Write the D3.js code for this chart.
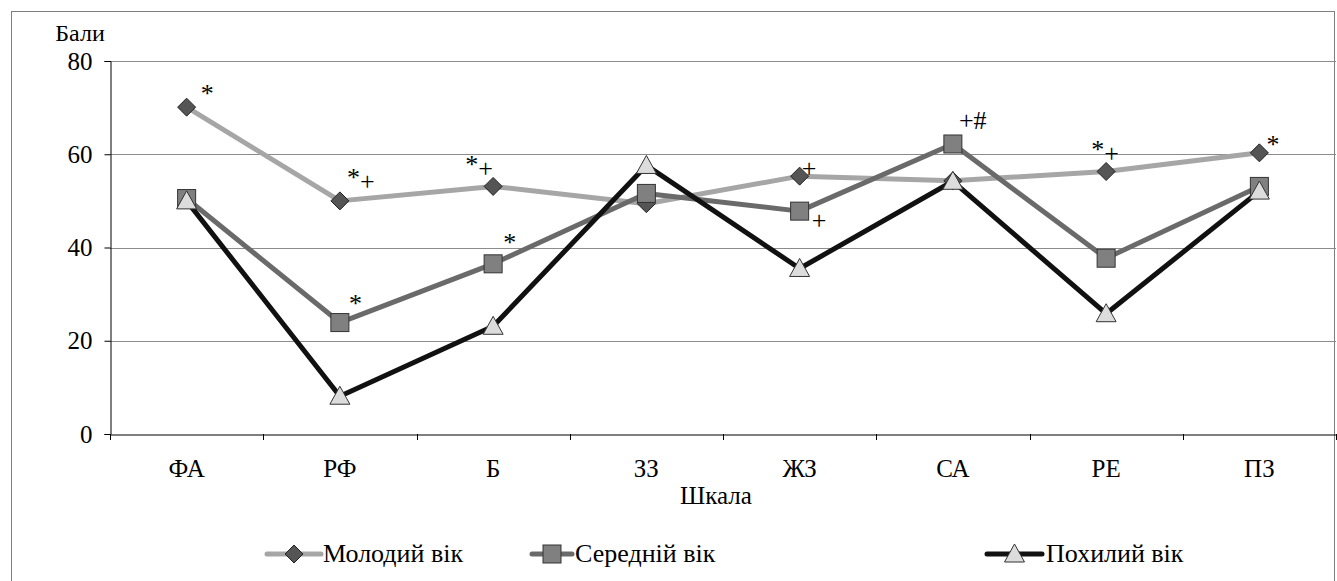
<!DOCTYPE html>
<html><head><meta charset="utf-8">
<script src="https://cdn.jsdelivr.net/npm/d3@7"></script>
<style>body{margin:0;background:#fff}</style>
</head><body>
<svg id="c" width="1337" height="581"></svg>
<script>
const categories = ["ФА","РФ","Б","ЗЗ","ЖЗ","СА","РЕ","ПЗ"];
const seriesNames = ["Молодий вік","Середній вік","Похилий вік"];
const young  = [70.1, 50.0, 53.1, 49.4, 55.3, 54.3, 56.3, 60.3];
const middle = [50.5, 23.9, 36.5, 51.6, 47.8, 62.2, 37.7, 53.1];
const old    = [50.0,  8.1, 23.1, 57.6, 35.5, 54.2, 25.8, 52.1];
const yTicks = [0, 20, 40, 60, 80];
// significance marks: [series index, category index, text]
const marks = [[0,0,"*"],[0,1,"*+"],[0,2,"*+"],[1,1,"*"],[1,2,"*"],[0,4,"+"],[1,4,"+"],[1,5,"+#"],[0,6,"*+"],[0,7,"*"]];

const FF = '"Liberation Serif", "Times New Roman", Tinos, FreeSerif';
const svg = d3.select("#c");
const L = 110, R = 1336, T = 61, B = 434;
const x = d3.scaleBand().domain(categories).range([L, R]);
const y = d3.scaleLinear().domain([0, 80]).range([B, T]);
const cx = c => x(c) + x.bandwidth()/2;
function txt(sel, size){
  return sel.attr("font-family",FF).attr("font-size",size)
    .style("font-family",FF).style("font-size",size+"px").style("fill","#000");
}

svg.append("rect").attr("x",11.5).attr("y",11.5).attr("width",1323).attr("height",600)
  .attr("fill","none").attr("stroke","#7f7f7f").attr("stroke-width",1);

// gridlines
svg.append("g").selectAll("line").data(yTicks.filter(d=>d>0)).join("line")
  .attr("x1",L).attr("x2",R).attr("y1",d=>Math.round(y(d))+0.5).attr("y2",d=>Math.round(y(d))+0.5)
  .attr("stroke","#8c8c8c").attr("stroke-width",1);

// y axis
const ya = svg.append("g").attr("transform",`translate(${L+0.5},0)`)
  .call(d3.axisLeft(y).tickValues(yTicks).tickSize(6).tickPadding(12));
ya.attr("font-family",FF).attr("font-size",25);
ya.select(".domain").attr("stroke","#000");
ya.selectAll(".tick line").attr("stroke","#000");
txt(ya.selectAll("text"), 25);

// x axis
const xa = svg.append("g").attr("transform",`translate(0,${B+0.5})`)
  .call(d3.axisBottom(x).tickSize(0).tickPadding(0));
xa.attr("font-family",FF).attr("font-size",25);
xa.select(".domain").attr("stroke","#000");
txt(xa.selectAll("text").attr("dy",null).attr("y",42), 25);
svg.append("g").selectAll("line").data(d3.range(categories.length+1)).join("line")
  .attr("x1",i=>Math.round(L + i*x.step())+0.5).attr("x2",i=>Math.round(L + i*x.step())+0.5)
  .attr("y1",B).attr("y2",B+6).attr("stroke","#000");

txt(svg.append("text").attr("x",80).attr("y",41).attr("text-anchor","middle"), 24).text("Бали");
txt(svg.append("text").attr("x",716).attr("y",504).attr("text-anchor","middle"), 25).text("Шкала");

const styles = [
  {data:young, color:"#a6a6a6", shape:"diamond"},
  {data:middle, color:"#6a6a6a", shape:"square"},
  {data:old, color:"#111111", shape:"triangle"}
];
const line = d3.line().x((d,i)=>cx(categories[i])).y(d=>y(d));
function marker(g, shape, px, py){
  if(shape==="diamond"){
    g.append("path").attr("d",`M${px},${py-9}L${px+9},${py}L${px},${py+9}L${px-9},${py}Z`)
      .attr("fill","#555").attr("stroke","#222").attr("stroke-width",1);
  } else if(shape==="square"){
    g.append("rect").attr("x",px-9).attr("y",py-9).attr("width",18).attr("height",18)
      .attr("fill","#808080").attr("stroke","#333").attr("stroke-width",1);
  } else {
    g.append("path").attr("d",`M${px},${py-10}L${px+10},${py+8}L${px-10},${py+8}Z`)
      .attr("fill","#dcdcdc").attr("stroke","#333").attr("stroke-width",1);
  }
}
styles.forEach(s=>{
  svg.append("path").datum(s.data).attr("d",line).attr("fill","none")
    .attr("stroke",s.color).attr("stroke-width",5).attr("stroke-linejoin","round");
});
styles.forEach(s=>{
  const g = svg.append("g");
  s.data.forEach((v,i)=>marker(g, s.shape, cx(categories[i]), y(v)));
});

// significance marks
const offs = {"0,0":[14,-5],"0,1":[7,-15],"0,2":[-28,-13],"1,1":[9,-11],"1,2":[10,-13],
  "0,4":[2,1],"1,4":[12,18],"1,5":[6,-15],"0,6":[-15,-14],"0,7":[7,0]};
marks.forEach(([si,ci,t])=>{
  const s = styles[si];
  const o = offs[si+","+ci];
  const px = cx(categories[ci]) + o[0], py = y(s.data[ci]) + o[1];
  const tx = txt(svg.append("text").attr("x",px).attr("y",py), 26);
  [...t].forEach((ch,k)=>{
    const sp = tx.append("tspan").text(ch);
    if(ch==="+" && t[0]==="*"){ sp.attr("dy",4); }
  });
});

// legend
const leg = [{x:267,w:54,tx:323},{x:532,w:40,tx:575},{x:987,w:55,tx:1046}];
styles.forEach((s,i)=>{
  const lg = leg[i], ly = 554;
  svg.append("line").attr("x1",lg.x).attr("x2",lg.x+lg.w).attr("y1",ly).attr("y2",ly)
    .attr("stroke",s.color).attr("stroke-width",5).attr("stroke-linecap","round");
  marker(svg, s.shape, lg.x+lg.w/2, ly);
  txt(svg.append("text").attr("x",lg.tx).attr("y",ly+8), 26).text(seriesNames[i]);
});
</script>
</body></html>
